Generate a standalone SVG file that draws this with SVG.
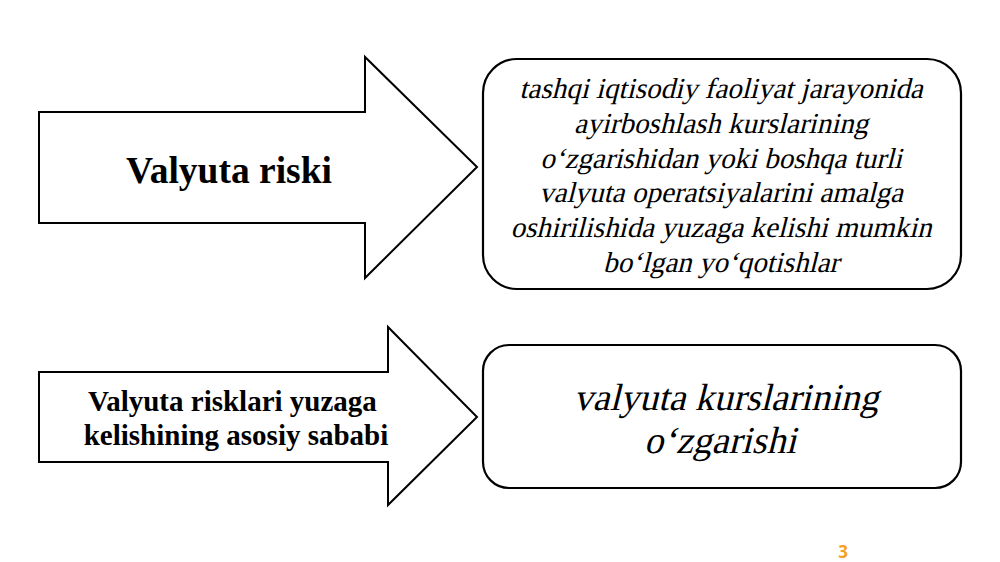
<svg xmlns="http://www.w3.org/2000/svg" width="1000" height="562" viewBox="0 0 1000 562">
<style>
.shape{fill:#fff;stroke:#000;stroke-width:2}
.box{fill:#fff;stroke:#000;stroke-width:2.2}
.b{font-family:"Liberation Serif","Times New Roman",serif;font-weight:bold;fill:#000;text-anchor:middle}
.o{font-family:"Liberation Serif","Times New Roman",serif;fill:#000;text-anchor:middle}
.t1{font-size:29px}
.t2{font-size:38px}
</style>
<rect width="1000" height="562" fill="#fff"/>
<g id="connectors"></g>
<g id="arrow1">
<polygon class="shape" points="39,112 365,112 365,57 477,167 365,278 365,223 39,223"/>
<text class="b" x="229" y="183" font-size="37.5">Valyuta riski</text>
</g>
<g id="box1">
<rect class="box" x="483" y="59" width="478" height="230" rx="34"/>
<text class="o t1" transform="translate(721,98) skewX(-14)">tashqi iqtisodiy faoliyat jarayonida</text>
<text class="o t1" transform="translate(721,133) skewX(-14)">ayirboshlash kurslarining</text>
<text class="o t1" transform="translate(721,168) skewX(-14)">o‘zgarishidan yoki boshqa turli</text>
<text class="o t1" transform="translate(721,202) skewX(-14)">valyuta operatsiyalarini amalga</text>
<text class="o t1" transform="translate(721,237) skewX(-14)">oshirilishida yuzaga kelishi mumkin</text>
<text class="o t1" transform="translate(721,272) skewX(-14)">bo‘lgan yo‘qotishlar</text>
</g>
<g id="arrow2">
<polygon class="shape" points="39,372 388,372 388,327 477,417 388,505 388,462 39,462"/>
<text class="b" font-size="29">
<tspan x="236" y="411">Valyuta risklari yuzaga</tspan>
<tspan x="236" y="445">kelishining asosiy sababi</tspan>
</text>
</g>
<g id="box2">
<rect class="box" x="483" y="345" width="478" height="143" rx="26"/>
<text class="o t2" transform="translate(726,410) skewX(-14)">valyuta kurslarining</text>
<text class="o t2" transform="translate(720,453) skewX(-14)">o‘zgarishi</text>
</g>
<text x="843" y="558" font-family="'Open Sans','Noto Sans',sans-serif" font-weight="bold" font-size="17" fill="#F5A11F" text-anchor="middle">3</text>
</svg>
